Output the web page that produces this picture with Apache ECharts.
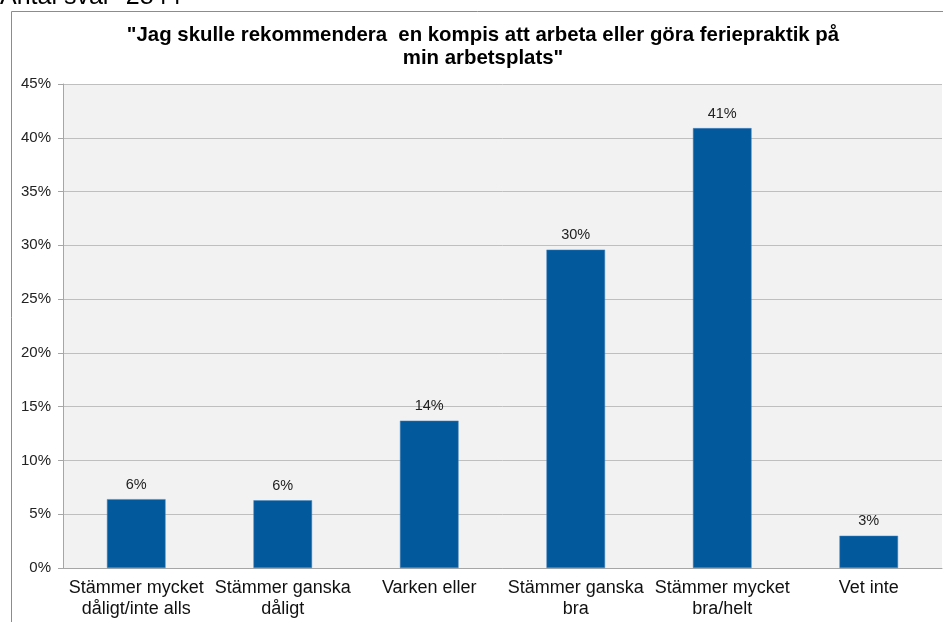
<!DOCTYPE html>
<html>
<head>
<meta charset="utf-8">
<script src="https://cdn.jsdelivr.net/npm/echarts@6/dist/echarts.min.js"></script>
<style>
  html, body { margin: 0; padding: 0; background: #fff; }
  #chart { width: 943px; height: 622px; }
</style>
</head>
<body>
<div id="chart"></div>
<script>
const FONT = "Liberation Sans, Arial, sans-serif";
const BAR = "#02599c";
const GRID = "#bfbfbf";

const categories = [
  "Stämmer mycket\ndåligt/inte alls",
  "Stämmer ganska\ndåligt",
  "Varken eller",
  "Stämmer ganska\nbra",
  "Stämmer mycket\nbra/helt",
  "Vet inte",
];
const values = [6.4, 6.3, 13.7, 29.6, 40.9, 3.0];
const valueLabels = ["6%", "6%", "14%", "30%", "41%", "3%"];

const chart = echarts.init(document.getElementById("chart"), null, { renderer: "canvas" });
chart.setOption({
  animation: false,
  title: {
    text: '"Jag skulle rekommendera  en kompis att arbeta eller göra feriepraktik på\nmin arbetsplats"',
    left: 478,
    top: 19,
    textAlign: "center",
    textStyle: { fontFamily: FONT, fontSize: 20.4, fontWeight: "bold", color: "#000", lineHeight: 23 },
  },
  graphic: [
    {
      type: "rect",
      shape: { x: 11.5, y: 11.5, width: 1000, height: 700 },
      style: { fill: "none", stroke: "#8c8c8c", lineWidth: 1 },
      silent: true,
    },
    {
      type: "text",
      x: 0,
      y: 10,
      style: {
        text: "Antal svar=2844", fontFamily: FONT, fontSize: 25, fill: "#000",
        verticalAlign: "bottom",
      },
      silent: true,
    },
  ],
  grid: {
    left: 63, right: 1, top: 84, bottom: 54,
    show: true, backgroundColor: "#f2f2f2", borderWidth: 0,
  },
  xAxis: {
    type: "category",
    data: categories,
    axisLine: { lineStyle: { color: "#a6a6a6" } },
    axisTick: { length: 6, lineStyle: { color: "#a6a6a6" } },
    axisLabel: {
      fontFamily: FONT, fontSize: 18, color: "#111", lineHeight: 21,
      margin: 10, interval: 0,
    },
  },
  yAxis: {
    type: "value",
    min: 0, max: 45, interval: 5,
    axisLine: { show: true, lineStyle: { color: "#a6a6a6" } },
    axisTick: { show: true, length: 5, lineStyle: { color: "#a6a6a6" } },
    axisLabel: { formatter: "{value}%", fontFamily: FONT, fontSize: 15, color: "#222", margin: 12 },
    splitLine: { lineStyle: { color: GRID, width: 1 } },
  },
  series: [
    {
      type: "bar",
      data: values,
      barWidth: "40%",
      itemStyle: { color: BAR, borderColor: "#4a86c0", borderWidth: 0.5 },
      label: {
        show: true,
        position: "top",
        distance: 7,
        formatter: (p) => valueLabels[p.dataIndex],
        fontFamily: FONT, fontSize: 14.5, color: "#222",
      },
    },
  ],
});
</script>
</body>
</html>
